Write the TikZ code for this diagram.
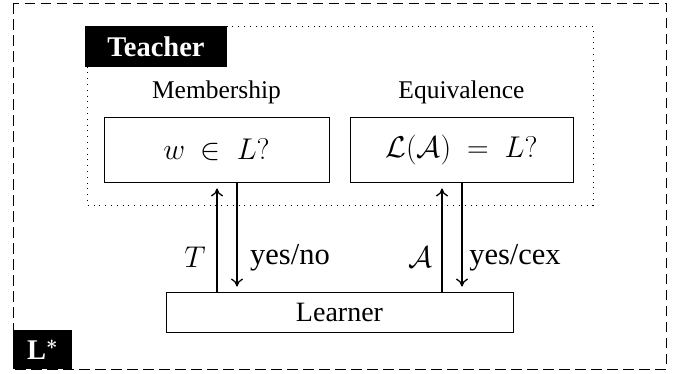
\RequirePackage{fix-cm}
\documentclass[tikz,border=0pt]{standalone}
\usepackage{amsmath}
\usepackage[no-math]{fontspec}
\setmainfont{Liberation Serif}
\usetikzlibrary{arrows.meta}
\begin{document}
\begin{tikzpicture}[x=1pt,y=-1pt,
  box/.style={draw, line width=0.9pt, inner sep=0pt},
  blackbox/.style={fill=black, text=white, inner sep=0pt, font=\fontsize{28.5}{30}\selectfont\bfseries},
  headtxt/.style={font=\fontsize{25.5}{30}\selectfont, inner sep=0pt},
  lbl/.style={font=\fontsize{28}{30}\selectfont, inner sep=0pt},
  sidelbl/.style={font=\fontsize{30.5}{32}\selectfont, inner sep=0pt},
  mathtxt/.style={font=\fontsize{30}{32}\selectfont, inner sep=0pt},
  arr/.style={-{To[length=8pt, width=12pt]}, line width=1.3pt},
]
\useasboundingbox (0,0) rectangle (683,373);
% outer dashed frame
\draw[line width=0.9pt, dash pattern=on 10.5pt off 5.5pt] (13,3) rectangle (666,369);
% dotted teacher region
\draw[line width=0.8pt, dash pattern=on 0.8pt off 5pt] (87,26) rectangle (593,205);
% labels
\node[blackbox, minimum width=142pt, minimum height=41pt] (teacher) at (156,46.5) {Teacher};
\node[blackbox, minimum width=59pt, minimum height=39pt] (lstar) at (42.5,349.5) {L$^{\boldsymbol{*}}$};
% headings
\node[headtxt] (memh) at (216.5,92) {Membership};
\node[headtxt] (eqh) at (461.5,92) {Equivalence};
% boxes
\node[box, minimum width=225pt, minimum height=65pt, mathtxt] (mem) at (216.5,149.5) {$w~\in~L?$};
\node[box, minimum width=223pt, minimum height=65pt, mathtxt] (eq) at (461.5,149.5) {$\mathcal{L}(\mathcal{A})~=~L?$};
\node[box, minimum width=347pt, minimum height=40pt, lbl] (learner) at (339.5,312) {Learner};
% arrow x positions
\coordinate (mU) at (217,0);
\coordinate (mD) at (237,0);
\coordinate (eU) at (442,0);
\coordinate (eD) at (462,0);
\draw[arr, shorten >=6pt] (learner.north -| mU) -- (mem.south -| mU);
\draw[arr, shorten >=5pt] (mem.south -| mD) -- (learner.north -| mD);
\draw[arr, shorten >=6pt] (learner.north -| eU) -- (eq.south -| eU);
\draw[arr, shorten >=5pt] (eq.south -| eD) -- (learner.north -| eD);
% arrow labels
\node[mathtxt] (tl) at (195,257) {$T$};
\node[sidelbl] (yn) at (290,258) {yes/no};
\node[mathtxt] (al) at (420,257) {$\mathcal{A}$};
\node[sidelbl] (yc) at (515,258) {yes/cex};
\end{tikzpicture}
\end{document}
